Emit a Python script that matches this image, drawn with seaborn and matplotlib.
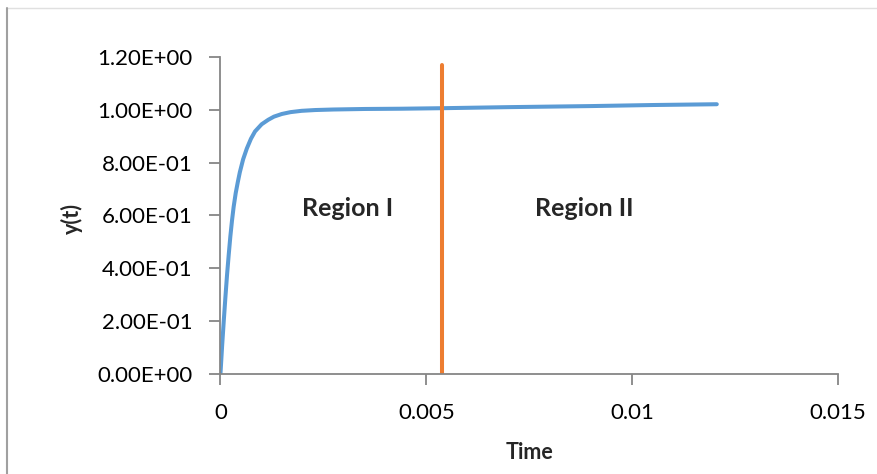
import numpy as np
import pandas as pd
import matplotlib
matplotlib.use("Agg")
import matplotlib.pyplot as plt
from matplotlib.lines import Line2D
import seaborn as sns

# ---- data ----
time_vals = [0.0, 0.00004, 0.00008, 0.00012, 0.00016, 0.0002, 0.00024, 0.00028,
             0.00032, 0.00037, 0.00042, 0.00047, 0.00055, 0.00064, 0.00074,
             0.00084, 0.001, 0.00116, 0.0013, 0.00149, 0.0017, 0.00197,
             0.0023, 0.00274, 0.0035, 0.0044, 0.0054, 0.007, 0.009, 0.0105, 0.01206]
y_vals = [0.0, 0.105, 0.20, 0.29, 0.375, 0.45, 0.52, 0.58,
          0.632, 0.684, 0.725, 0.763, 0.812, 0.853, 0.89,
          0.918, 0.945, 0.962, 0.974, 0.984, 0.991, 0.996,
          0.999, 1.001, 1.003, 1.004, 1.006, 1.010, 1.014, 1.018, 1.021]
boundary_t = [0.00539, 0.00539]
boundary_y = [0.0, 1.17]
y_ticks = [0.0, 0.2, 0.4, 0.6, 0.8, 1.0, 1.2]
x_ticks = [0.0, 0.005, 0.01, 0.015]
x_tick_labels = ["0", "0.005", "0.01", "0.015"]
regions = ["Region I", "Region II"]
region_t = [0.00309, 0.00883]
region_y = [0.624, 0.624]

sns.set_theme(style="white")
plt.rcParams["font.family"] = ["Lato", "DejaVu Sans"]

fig = plt.figure(figsize=(8.77, 4.74), dpi=100)
ax = fig.add_axes([0.2514, 0.212, 0.7039, 0.6677])

curve = pd.DataFrame({"t": time_vals, "y": y_vals})
bound = pd.DataFrame({"t": boundary_t, "y": boundary_y})
sns.lineplot(data=curve, x="t", y="y", ax=ax, color="#5B9BD5", linewidth=2.9,
             estimator=None, sort=False)
sns.lineplot(data=bound, x="t", y="y", ax=ax, color="#ED7D31", linewidth=2.9,
             estimator=None, sort=False)

ax.set_xlim(0, 0.015)
ax.set_ylim(0, 1.2)
ax.set_yticks(y_ticks)
ax.set_yticklabels([f"{v:.2E}" for v in y_ticks])
ax.set_xticks(x_ticks)
ax.set_xticklabels(x_tick_labels)

for s in ["top", "right"]:
    ax.spines[s].set_visible(False)
for s in ["left", "bottom"]:
    ax.spines[s].set_color("#868686")
    ax.spines[s].set_linewidth(1.3)

ax.tick_params(axis="both", which="major", direction="out", length=8, width=1.3,
               color="#868686", labelsize=16, labelcolor="black")
ax.tick_params(axis="y", pad=12, left=True)
ax.tick_params(axis="x", pad=13, bottom=True)

ax.set_xlabel("Time", fontsize=15.5, fontweight="bold")
ax.set_ylabel("y(t)", fontsize=15.5, fontweight="bold")
ax.xaxis.set_label_coords(0.501, -0.248)
ax.yaxis.set_label_coords(-0.2406, 0.491)
ax.xaxis.label.set_verticalalignment("center")
ax.yaxis.label.set_verticalalignment("center")

for name, tx, ty in zip(regions, region_t, region_y):
    ax.text(tx, ty, name, ha="center", va="center", fontsize=18, fontweight="bold")

# page frame lines
fig.add_artist(Line2D([7 / 877, 1.0], [1 - 8 / 474, 1 - 8 / 474], color="#e0e0e0", linewidth=1.0))
fig.add_artist(Line2D([7 / 877, 7 / 877], [0.0, 1 - 8 / 474], color="#a0a0a0", linewidth=1.5))

fig.savefig("out.png", dpi=100)
